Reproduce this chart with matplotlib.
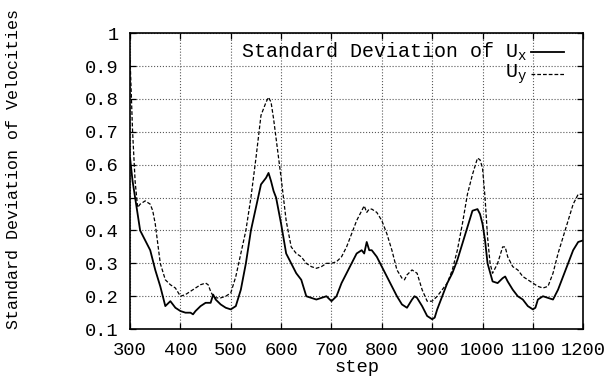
import numpy as np
import matplotlib
matplotlib.use("Agg")
import matplotlib.pyplot as plt
from matplotlib.lines import Line2D

plt.rcParams['font.family'] = ['Liberation Mono', 'DejaVu Sans Mono']
plt.rcParams['mathtext.fontset'] = 'custom'
plt.rcParams['mathtext.rm'] = 'Liberation Mono'
plt.rcParams['mathtext.it'] = 'Liberation Mono'

# standard deviation of U_x (solid)
steps_x = [300, 305, 310, 315, 320, 330, 340, 350, 360, 370, 380, 390, 400, 410,
           420, 425, 430, 440, 450, 460, 465, 470, 480, 490, 500, 510, 520, 530,
           540, 550, 560, 570, 575, 580, 585, 590, 600, 610, 620, 630, 640, 650,
           660, 670, 680, 690, 700, 710, 720, 730, 740, 750, 760, 765, 770, 775,
           780, 790, 800, 810, 820, 830, 840, 850, 860, 865, 870, 880, 890, 900,
           905, 910, 920, 930, 940, 950, 960, 970, 980, 990, 995, 1000, 1005,
           1010, 1020, 1030, 1040, 1045, 1050, 1060, 1070, 1080, 1090, 1100,
           1105, 1110, 1120, 1130, 1140, 1150, 1160, 1170, 1180, 1190, 1200]
std_ux = [0.62, 0.55, 0.50, 0.45, 0.40, 0.37, 0.34, 0.28, 0.23, 0.17, 0.185, 0.165,
          0.155, 0.15, 0.15, 0.145, 0.155, 0.17, 0.18, 0.18, 0.205, 0.19, 0.175,
          0.165, 0.16, 0.17, 0.22, 0.30, 0.40, 0.47, 0.54, 0.56, 0.575, 0.55, 0.52,
          0.50, 0.42, 0.33, 0.30, 0.27, 0.25, 0.20, 0.195, 0.19, 0.195, 0.20, 0.185,
          0.20, 0.24, 0.27, 0.30, 0.33, 0.34, 0.33, 0.365, 0.34, 0.34, 0.32, 0.29,
          0.26, 0.23, 0.20, 0.175, 0.165, 0.19, 0.20, 0.195, 0.17, 0.14, 0.13,
          0.135, 0.16, 0.20, 0.24, 0.27, 0.31, 0.36, 0.41, 0.46, 0.465, 0.45, 0.42,
          0.37, 0.30, 0.245, 0.24, 0.255, 0.26, 0.245, 0.22, 0.20, 0.19, 0.17,
          0.16, 0.165, 0.19, 0.20, 0.195, 0.19, 0.22, 0.26, 0.30, 0.34, 0.365, 0.37]

# standard deviation of U_y (dashed)
steps_y = [300, 305, 310, 315, 320, 330, 340, 345, 350, 355, 360, 370, 380, 390,
           400, 410, 420, 430, 440, 450, 455, 460, 465, 470, 480, 490, 500, 510,
           520, 530, 540, 550, 560, 570, 575, 580, 585, 590, 600, 610, 620, 630,
           640, 650, 660, 670, 680, 690, 700, 710, 720, 730, 740, 750, 760, 765,
           770, 775, 780, 790, 800, 810, 820, 830, 840, 845, 850, 860, 870, 880,
           890, 900, 910, 920, 930, 940, 950, 960, 970, 980, 990, 995, 1000, 1005,
           1010, 1015, 1020, 1030, 1040, 1045, 1050, 1060, 1070, 1080, 1090, 1100,
           1110, 1120, 1130, 1140, 1150, 1160, 1170, 1180, 1190, 1200]
std_uy = [0.92, 0.70, 0.55, 0.47, 0.48, 0.49, 0.48, 0.46, 0.42, 0.36, 0.30, 0.25,
          0.235, 0.225, 0.20, 0.205, 0.215, 0.225, 0.235, 0.24, 0.235, 0.215, 0.20,
          0.195, 0.195, 0.20, 0.21, 0.26, 0.33, 0.40, 0.50, 0.62, 0.75, 0.79, 0.805,
          0.79, 0.74, 0.68, 0.56, 0.43, 0.35, 0.33, 0.32, 0.30, 0.29, 0.285, 0.29,
          0.30, 0.30, 0.305, 0.32, 0.35, 0.39, 0.43, 0.46, 0.475, 0.455, 0.465,
          0.465, 0.455, 0.43, 0.39, 0.34, 0.28, 0.255, 0.25, 0.265, 0.28, 0.27,
          0.22, 0.185, 0.185, 0.20, 0.22, 0.24, 0.28, 0.34, 0.42, 0.51, 0.57, 0.62,
          0.615, 0.59, 0.50, 0.38, 0.30, 0.27, 0.30, 0.35, 0.35, 0.32, 0.29, 0.28,
          0.26, 0.25, 0.24, 0.23, 0.225, 0.23, 0.27, 0.33, 0.38, 0.43, 0.48, 0.51,
          0.51]

xticks = list(range(300, 1201, 100))
yticks = [0.1, 0.2, 0.3, 0.4, 0.5, 0.6, 0.7, 0.8, 0.9, 1.0]
ytick_labels = ['0.1', '0.2', '0.3', '0.4', '0.5', '0.6', '0.7', '0.8', '0.9', '1']

fig = plt.figure(figsize=(6.05, 3.77), dpi=100)
ax = fig.add_axes([0.215, 0.127, 0.749, 0.785])

dash = (0, (3, 1.6))
ax.plot(steps_x, std_ux, color='black', lw=1.3)
ax.plot(steps_y, std_uy, color='black', lw=0.9, linestyle=dash)

ax.set_xlim(300, 1200)
ax.set_ylim(0.1, 1.0)
ax.set_xticks(xticks)
ax.set_yticks(yticks)
ax.set_yticklabels(ytick_labels)
ax.grid(True, linestyle=':', color='0.35', lw=0.8)
ax.tick_params(direction='in', length=4, width=0.9, top=True, right=True,
               labelsize=13.5)
ax.tick_params(axis='y', pad=8)
ax.tick_params(axis='x', pad=9)
for s in ax.spines.values():
    s.set_linewidth(1.2)

ax.set_xlabel('step', fontsize=13.5, labelpad=0)
ax.set_ylabel('Standard Deviation of Velocities', fontsize=12)
ax.yaxis.set_label_coords(-0.24, 0.54)

# key in gnuplot style: right-justified text with line sample
tx = 0.876
for yk, lab, ls, lw in [(0.938, r'Standard Deviation of U$_\mathrm{x}$', '-', 1.3),
                        (0.862, r'U$_\mathrm{y}$', dash, 0.9)]:
    ax.text(tx, yk, lab, transform=ax.transAxes, ha='right', va='center',
            fontsize=14.4)
    ax.add_line(Line2D([0.885, 0.958], [yk, yk], transform=ax.transAxes,
                       color='black', lw=lw, linestyle=ls))

fig.savefig('out.png', dpi=100)
